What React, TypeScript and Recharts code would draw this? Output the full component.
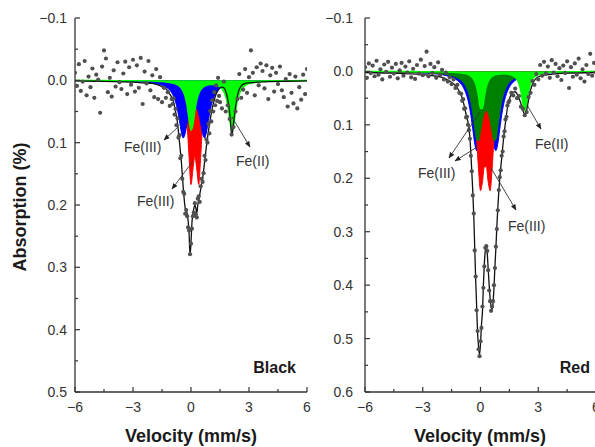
import React from 'react';
import { ComposedChart, Area, Line, Scatter, XAxis, YAxis } from 'recharts';

// velocity grid for the fitted sub-spectra (mm/s)
const gridV = [
  -6, -5, -4, -3, -2.5, -2,
  -1.5, -1.4, -1.3, -1.2, -1.1, -1.0, -0.9, -0.8, -0.7, -0.6, -0.5, -0.4, -0.3, -0.2, -0.1, 0,
  0.1, 0.2, 0.3, 0.4, 0.5, 0.6, 0.7, 0.8, 0.9, 1.0, 1.1, 1.2, 1.3, 1.4, 1.5, 1.6, 1.7, 1.8, 1.9, 2.0,
  2.1, 2.2, 2.3, 2.4, 2.5, 2.6, 2.7, 2.8, 2.9, 3.0,
  3.5, 4, 5, 6,
];

// Black sample sub-spectra
const blackGreen = [
  0.0003, 0.0004, 0.0005, 0.0007, 0.0008, 0.0012,
  0.0019, 0.0022, 0.0025, 0.0029, 0.0034, 0.004, 0.0047, 0.0059, 0.0073, 0.0094, 0.0126, 0.0178, 0.0263, 0.0407, 0.0624, 0.0801,
  0.0716, 0.0489, 0.0316, 0.0213, 0.0153, 0.0117, 0.0094, 0.008, 0.0072, 0.0067, 0.0067, 0.0069, 0.0076, 0.0087, 0.0105, 0.0134, 0.018, 0.0259, 0.0393, 0.0603,
  0.0795, 0.0736, 0.0509, 0.0327, 0.0216, 0.0151, 0.011, 0.0084, 0.0065, 0.0053,
  0.0024, 0.0014, 0.0007, 0.0004,
];
const blackBlue = [
  0.0004, 0.0006, 0.0009, 0.0017, 0.0024, 0.0039,
  0.0076, 0.0088, 0.0105, 0.0127, 0.0158, 0.0199, 0.0258, 0.0344, 0.047, 0.0643, 0.0829, 0.0925, 0.085, 0.0685, 0.0539, 0.0446,
  0.0401, 0.0401, 0.0446, 0.0539, 0.0685, 0.085, 0.0925, 0.0829, 0.0643, 0.047, 0.0344, 0.0258, 0.0199, 0.0158, 0.0127, 0.0105, 0.0088, 0.0076, 0.0065, 0.0057,
  0.005, 0.0044, 0.0039, 0.0036, 0.0033, 0.0029, 0.0027, 0.0024, 0.0023, 0.0021,
  0.0014, 0.0011, 0.0007, 0.0005,
];
const blackRed = [
  0.0002, 0.0003, 0.0005, 0.0008, 0.0012, 0.0017,
  0.0029, 0.0034, 0.0038, 0.0045, 0.0052, 0.0062, 0.0074, 0.0092, 0.0115, 0.0149, 0.02, 0.0285, 0.0433, 0.0716, 0.1227, 0.1672,
  0.1429, 0.1216, 0.1429, 0.1672, 0.1227, 0.0716, 0.0433, 0.0285, 0.02, 0.0149, 0.0115, 0.0092, 0.0074, 0.0062, 0.0052, 0.0045, 0.0038, 0.0034, 0.0029, 0.0026,
  0.0024, 0.0022, 0.0019, 0.0017, 0.0017, 0.0015, 0.0014, 0.0013, 0.0012, 0.0012,
  0.0007, 0.0006, 0.0004, 0.0002,
];

// Red sample sub-spectra
const redLightGreen = [
  0.0002, 0.0002, 0.0003, 0.0004, 0.0006, 0.0009,
  0.0014, 0.0016, 0.0018, 0.002, 0.0024, 0.0029, 0.0034, 0.0041, 0.0051, 0.0066, 0.0089, 0.0124, 0.0184, 0.0289, 0.0472, 0.0692,
  0.0693, 0.0473, 0.0292, 0.0187, 0.0128, 0.0094, 0.0073, 0.0059, 0.0051, 0.0048, 0.0046, 0.0044, 0.0046, 0.005, 0.0057, 0.0067, 0.0084, 0.011, 0.0154, 0.0233,
  0.0372, 0.0591, 0.0736, 0.059, 0.037, 0.023, 0.0151, 0.0105, 0.0077, 0.0059,
  0.0023, 0.0012, 0.0005, 0.0003,
];
const redDarkGreen = [
  0.0005, 0.0008, 0.0012, 0.0021, 0.0029, 0.0045,
  0.0077, 0.0088, 0.0101, 0.0119, 0.014, 0.0167, 0.0204, 0.0254, 0.0324, 0.0425, 0.0573, 0.0784, 0.1051, 0.1277, 0.1301, 0.1126,
  0.0919, 0.0783, 0.0738, 0.0783, 0.0919, 0.1126, 0.1301, 0.1277, 0.1051, 0.0784, 0.0573, 0.0425, 0.0324, 0.0254, 0.0204, 0.0167, 0.014, 0.0119, 0.0101, 0.0088,
  0.0077, 0.0068, 0.006, 0.0054, 0.0049, 0.0045, 0.0041, 0.0037, 0.0035, 0.0032,
  0.0021, 0.0016, 0.0009, 0.0006,
];
const redBlue = [
  0.0008, 0.0011, 0.0016, 0.0028, 0.004, 0.0062,
  0.0109, 0.0125, 0.0145, 0.0169, 0.02, 0.024, 0.0294, 0.0369, 0.0472, 0.0618, 0.0821, 0.1083, 0.1348, 0.1483, 0.1396, 0.1184,
  0.0984, 0.0861, 0.082, 0.0861, 0.0984, 0.1184, 0.1396, 0.1483, 0.1348, 0.1083, 0.0821, 0.0618, 0.0472, 0.0369, 0.0294, 0.024, 0.02, 0.0169, 0.0145, 0.0125,
  0.0109, 0.0096, 0.0085, 0.0076, 0.0069, 0.0062, 0.0057, 0.0052, 0.0048, 0.0044,
  0.003, 0.0022, 0.0013, 0.0009,
];
const redRed = [
  0.0005, 0.0007, 0.0011, 0.0019, 0.0027, 0.0041,
  0.0069, 0.0077, 0.0089, 0.0101, 0.0118, 0.0139, 0.0166, 0.0203, 0.0252, 0.0323, 0.0427, 0.0588, 0.0848, 0.1267, 0.1841, 0.2232,
  0.207, 0.1785, 0.1785, 0.207, 0.2232, 0.1841, 0.1267, 0.0848, 0.0588, 0.0427, 0.0323, 0.0252, 0.0203, 0.0166, 0.0139, 0.0118, 0.0101, 0.0089, 0.0077, 0.0069,
  0.0061, 0.0055, 0.005, 0.0044, 0.0041, 0.0038, 0.0035, 0.0032, 0.0029, 0.0027,
  0.0019, 0.0014, 0.0009, 0.0007,
];

// total fits
const fitBlackV = [
  -6, -5, -4, -3, -2.5, -2, -1.75, -1.5, -1.25, -1.1, -1.0, -0.9, -0.8, -0.7, -0.6, -0.5, -0.4, -0.3, -0.2,
  -0.15, -0.1, -0.05, 0, 0.05, 0.1, 0.15, 0.2, 0.25, 0.3, 0.35, 0.4,
  0.5, 0.6, 0.7, 0.8, 0.9, 1.0, 1.1, 1.2, 1.3, 1.4, 1.5, 1.6, 1.7, 1.8, 1.9,
  2.0, 2.05, 2.1, 2.15, 2.2, 2.3, 2.4, 2.5, 2.6, 2.8, 3.0, 3.5, 4, 5, 6,
];
const fitBlack = [
  0.001, 0.0015, 0.002, 0.003, 0.004, 0.005, 0.007, 0.01, 0.015, 0.022, 0.027, 0.035, 0.05, 0.068, 0.098, 0.13, 0.173, 0.205, 0.214,
  0.225, 0.245, 0.28, 0.26, 0.228, 0.214, 0.205, 0.2, 0.205, 0.213, 0.2, 0.192,
  0.175, 0.157, 0.132, 0.105, 0.082, 0.062, 0.045, 0.032, 0.022, 0.016, 0.012, 0.011, 0.012, 0.018, 0.03,
  0.052, 0.07, 0.087, 0.083, 0.068, 0.044, 0.025, 0.014, 0.009, 0.005, 0.004, 0.003, 0.002, 0.0015, 0.001,
];
const fitRedV = [
  -6, -5, -4, -3, -2.5, -2, -1.6, -1.4, -1.2, -1.0, -0.9, -0.8, -0.7, -0.6, -0.5,
  -0.45, -0.4, -0.35, -0.3, -0.25, -0.2, -0.15, -0.1, -0.05, 0,
  0.05, 0.1, 0.15, 0.2, 0.25, 0.3, 0.35, 0.4, 0.45, 0.5, 0.55, 0.6, 0.65, 0.7, 0.75, 0.8, 0.85, 0.9,
  1.0, 1.1, 1.2, 1.3, 1.4, 1.5, 1.6, 1.7, 1.8, 1.9, 2.0, 2.1, 2.2, 2.3, 2.4, 2.5, 2.6, 2.7, 2.8,
  3.0, 3.5, 4, 5, 6,
];
const fitRed = [
  0.002, 0.003, 0.004, 0.006, 0.008, 0.011, 0.018, 0.023, 0.031, 0.045, 0.056, 0.072, 0.088, 0.105, 0.153,
  0.19, 0.225, 0.27, 0.33, 0.39, 0.44, 0.49, 0.515, 0.53, 0.51,
  0.475, 0.45, 0.4, 0.36, 0.335, 0.325, 0.34, 0.37, 0.4, 0.425, 0.44, 0.445, 0.435, 0.405, 0.365, 0.33, 0.29, 0.255,
  0.2, 0.163, 0.125, 0.095, 0.068, 0.052, 0.043, 0.039, 0.038, 0.042, 0.05, 0.06, 0.073, 0.08, 0.072, 0.053, 0.035, 0.024, 0.017,
  0.01, 0.006, 0.004, 0.003, 0.002,
];

// measured points [velocity, absorption]
const obsBlack: [number, number][] = [
  [-6.0, -0.012], [-5.9, 0.009], [-5.8, -0.026], [-5.7, 0.017], [-5.6, 0.002], [-5.5, -0.031], [-5.4, 0.024], [-5.3, -0.006], [-5.2, 0.011], [-5.1, -0.019],
  [-5.0, 0.028], [-4.9, -0.009], [-4.8, -0.001], [-4.7, 0.052], [-4.6, -0.022], [-4.5, -0.048], [-4.4, -0.035], [-4.3, 0.019], [-4.2, -0.004], [-4.1, 0.026],
  [-4.0, -0.016], [-3.9, 0.010], [-3.8, -0.029], [-3.7, 0.003], [-3.6, 0.014], [-3.5, -0.011], [-3.4, -0.030], [-3.3, 0.022], [-3.2, -0.021], [-3.1, 0.007],
  [-3.0, -0.033], [-2.9, 0.018], [-2.8, -0.024], [-2.7, 0.012], [-2.6, -0.036], [-2.5, 0.038], [-2.4, -0.014], [-2.3, 0.005], [-2.2, -0.031], [-2.1, 0.016],
  [-2.0, -0.008], [-1.9, 0.027], [-1.8, -0.018], [-1.7, 0.030], [-1.6, -0.005], [-1.5, 0.035], [-1.4, 0.012], [-1.3, 0.028], [-1.2, 0.019], [-1.1, 0.041],
  [-1.0, 0.030], [-0.95, 0.038], [-0.9, 0.029], [-0.85, 0.055], [-0.8, 0.046], [-0.75, 0.072], [-0.7, 0.061], [-0.65, 0.092], [-0.6, 0.088], [-0.55, 0.125],
  [-0.5, 0.121], [-0.45, 0.158], [-0.4, 0.179], [-0.35, 0.182], [-0.3, 0.214], [-0.25, 0.208], [-0.2, 0.218], [-0.15, 0.236], [-0.1, 0.241], [-0.05, 0.279],
  [0.0, 0.262], [0.05, 0.238], [0.1, 0.218], [0.15, 0.212], [0.2, 0.197], [0.25, 0.215], [0.3, 0.22], [0.35, 0.19], [0.4, 0.186], [0.45, 0.195],
  [0.5, 0.17], [0.55, 0.158], [0.6, 0.163], [0.65, 0.149], [0.7, 0.121], [0.75, 0.128], [0.8, 0.095], [0.85, 0.1], [0.9, 0.07], [0.95, 0.085],
  [1.0, 0.049], [1.05, 0.066], [1.1, 0.032], [1.15, 0.05], [1.2, 0.019], [1.25, 0.04], [1.3, 0.008], [1.35, 0.033], [1.4, -0.004], [1.45, 0.025], [1.5, 0.035],
  [1.6, 0.045], [1.7, 0.002], [1.8, 0.05], [1.9, 0.04], [2.0, 0.062], [2.1, 0.087], [2.2, 0.075], [2.3, 0.05], [2.4, 0.03], [2.5, -0.01],
  [2.6, 0.028], [2.7, 0.015], [2.8, -0.018], [2.9, 0.02], [3.0, -0.005], [3.1, -0.048], [3.2, -0.012], [3.3, 0.024], [3.4, -0.021], [3.5, 0.008],
  [3.6, -0.027], [3.7, -0.015], [3.8, 0.013], [3.9, -0.024], [4.0, 0.03], [4.1, -0.008], [4.2, -0.02], [4.3, 0.018], [4.4, -0.012], [4.5, 0.006],
  [4.6, -0.022], [4.7, 0.016], [4.8, 0.027], [4.9, -0.002], [5.0, 0.042], [5.1, -0.01], [5.2, 0.02], [5.3, 0.037], [5.4, -0.006], [5.5, 0.045],
  [5.6, 0.011], [5.7, 0.031], [5.8, -0.009], [5.9, 0.022], [6.0, -0.018],
];
const obsRed: [number, number][] = [
  [-6.0, -0.008], [-5.9, 0.012], [-5.8, -0.015], [-5.7, 0.003], [-5.6, -0.011], [-5.5, 0.009], [-5.4, -0.02], [-5.3, 0.006], [-5.2, -0.004], [-5.1, 0.015],
  [-5.0, -0.013], [-4.9, 0.001], [-4.8, -0.018], [-4.7, 0.01], [-4.6, -0.007], [-4.5, 0.004], [-4.4, -0.014], [-4.3, 0.013], [-4.2, -0.002], [-4.1, -0.016],
  [-4.0, 0.008], [-3.9, -0.009], [-3.8, 0.002], [-3.7, -0.019], [-3.6, 0.011], [-3.5, -0.005], [-3.4, 0.014], [-3.3, -0.012], [-3.2, 0.004], [-3.1, -0.022],
  [-3.0, 0.007], [-2.9, -0.01], [-2.8, -0.037], [-2.7, 0.009], [-2.6, -0.014], [-2.5, 0.003], [-2.4, -0.008], [-2.3, 0.012], [-2.2, -0.017], [-2.1, 0.006],
  [-2.0, -0.003], [-1.9, 0.015], [-1.8, 0.002], [-1.7, 0.019], [-1.6, 0.011], [-1.5, 0.024], [-1.4, 0.015], [-1.3, 0.031], [-1.2, 0.025], [-1.1, 0.04],
  [-1.0, 0.042], [-0.95, 0.055], [-0.9, 0.052], [-0.85, 0.07], [-0.8, 0.069], [-0.75, 0.086], [-0.7, 0.085], [-0.65, 0.1], [-0.6, 0.11], [-0.55, 0.126],
  [-0.5, 0.158], [-0.45, 0.187], [-0.4, 0.232], [-0.35, 0.266], [-0.3, 0.335], [-0.25, 0.384], [-0.2, 0.447], [-0.15, 0.486], [-0.1, 0.52], [-0.05, 0.533],
  [0.0, 0.505], [0.05, 0.48], [0.1, 0.44], [0.15, 0.405], [0.2, 0.365], [0.25, 0.33], [0.3, 0.327], [0.35, 0.336], [0.4, 0.372], [0.45, 0.41],
  [0.5, 0.43], [0.55, 0.448], [0.6, 0.44], [0.65, 0.43], [0.7, 0.4], [0.75, 0.368], [0.8, 0.328], [0.85, 0.295], [0.9, 0.26], [0.95, 0.222],
  [1.0, 0.198], [1.05, 0.185], [1.1, 0.158], [1.15, 0.15], [1.2, 0.122], [1.25, 0.112], [1.3, 0.09], [1.35, 0.085], [1.4, 0.064], [1.45, 0.058], [1.5, 0.055],
  [1.6, 0.04], [1.7, 0.045], [1.8, 0.032], [1.9, 0.05], [2.0, 0.046], [2.1, 0.066], [2.2, 0.07], [2.3, 0.082], [2.4, 0.076], [2.5, 0.048],
  [2.6, 0.04], [2.7, 0.018], [2.8, 0.025], [2.9, 0.005], [3.0, 0.015], [3.1, -0.012], [3.2, 0.008], [3.3, -0.018], [3.4, 0.004], [3.5, -0.009],
  [3.6, 0.012], [3.7, -0.021], [3.8, 0.002], [3.9, -0.014], [4.0, 0.009], [4.1, -0.006], [4.2, 0.016], [4.3, -0.011], [4.4, 0.003], [4.5, -0.019],
  [4.6, 0.031], [4.7, -0.008], [4.8, 0.01], [4.9, -0.015], [5.0, 0.006], [5.1, -0.024], [5.2, 0.013], [5.3, -0.004], [5.4, 0.019], [5.5, -0.012],
  [5.6, 0.005], [5.7, -0.033], [5.8, 0.008], [5.9, -0.016], [6.0, 0.002],
];

const xTicks = [-6, -4.5, -3, -1.5, 0, 1.5, 3, 4.5, 6];
const yTicksBlack = [-0.1, -0.05, 0, 0.05, 0.1, 0.15, 0.2, 0.25, 0.3, 0.35, 0.4, 0.45, 0.5];
const yTicksRed = [-0.1, -0.05, 0, 0.05, 0.1, 0.15, 0.2, 0.25, 0.3, 0.35, 0.4, 0.45, 0.5, 0.55, 0.6];

const blackRows = gridV.map((v, i) => ({ v, green: blackGreen[i], blue: blackBlue[i], red: blackRed[i] }));
const redRows = gridV.map((v, i) => ({ v, lgreen: redLightGreen[i], dgreen: redDarkGreen[i], blue: redBlue[i], red: redRed[i] }));
const toPts = (vs: number[], as: number[]) => vs.map((v, i) => ({ v, a: as[i] }));
const fitBlackPts = toPts(fitBlackV, fitBlack);
const fitRedPts = toPts(fitRedV, fitRed);
const obsBlackPts = obsBlack.map(([v, a]) => ({ v, a }));
const obsRedPts = obsRed.map(([v, a]) => ({ v, a }));

const FONT = 'Arial, "Liberation Sans", sans-serif';
const AXIS = '#333';
const minus = (s: string) => s.replace('-', '\u2212');

const XTick = (p: any) => {
  const v = p.payload.value;
  const major = Math.abs(v % 3) < 1e-6;
  return (
    <g>
      <line x1={p.x} x2={p.x} y1={p.y} y2={p.y - (major ? 5 : 3)} stroke={AXIS} strokeWidth={1.2} />
      {major && (
        <text x={p.x} y={p.y + 20} textAnchor="middle" fontSize={14} fill="#333" fontFamily={FONT}>
          {minus(String(v))}
        </text>
      )}
    </g>
  );
};

const makeYTick = (gap: number) => (p: any) => {
  const v = p.payload.value;
  const major = Math.abs(v * 10 - Math.round(v * 10)) < 1e-6;
  return (
    <g>
      <line x1={p.x} x2={p.x + (major ? 5 : 3)} y1={p.y} y2={p.y} stroke={AXIS} strokeWidth={1.2} />
      {major && (
        <text x={p.x - gap} y={p.y + 5} textAnchor="end" fontSize={14} fill="#333" fontFamily={FONT}>
          {minus(v.toFixed(1))}
        </text>
      )}
    </g>
  );
};

const Dot = (p: any) => <circle cx={p.cx} cy={p.cy} r={2.1} fill="#505050" />;

const arrows = [
  { x1: 178, y1: 127, x2: 164, y2: 140 },
  { x1: 193, y1: 161, x2: 172, y2: 189 },
  { x1: 232, y1: 117, x2: 250, y2: 147 },
  { x1: 480, y1: 112, x2: 449, y2: 158 },
  { x1: 477, y1: 147, x2: 455, y2: 161 },
  { x1: 491, y1: 168, x2: 516, y2: 210 },
  { x1: 527, y1: 105, x2: 541, y2: 129 },
];
const notes = [
  { text: 'Fe(III)', x: 124, y: 152 },
  { text: 'Fe(III)', x: 137, y: 206 },
  { text: 'Fe(II)', x: 236, y: 166 },
  { text: 'Fe(III)', x: 418, y: 178 },
  { text: 'Fe(III)', x: 508, y: 231 },
  { text: 'Fe(II)', x: 535, y: 149 },
];

const axisLine = { stroke: AXIS, strokeWidth: 1.3 };

export default function App() {
  return (
    <div style={{ position: 'absolute', left: 0, top: 0, width: 595, height: 447, overflow: 'hidden', background: '#fff' }}>
      <div style={{ position: 'absolute', left: 0, top: 0 }}>
        <ComposedChart width={320} height={447} data={blackRows} margin={{ top: 18, right: 13, bottom: 25, left: 15 }}>
          <XAxis type="number" dataKey="v" domain={[-6, 6]} ticks={xTicks} interval={0} height={30} tickSize={0} tickMargin={0}
            tickLine={false} axisLine={axisLine} tick={XTick} allowDataOverflow />
          <YAxis type="number" domain={[-0.1, 0.5]} reversed ticks={yTicksBlack} interval={0} width={60} tickSize={0} tickMargin={0}
            tickLine={false} axisLine={axisLine} tick={makeYTick(8)} allowDataOverflow />
          <Area type="monotone" dataKey="red" baseValue={0} stroke="#ff0000" fill="#ff0000" fillOpacity={1} strokeWidth={1} isAnimationActive={false} />
          <Area type="monotone" dataKey="blue" baseValue={0} stroke="#0000ff" fill="#0000ff" fillOpacity={1} strokeWidth={1} isAnimationActive={false} />
          <Area type="monotone" dataKey="green" baseValue={0} stroke="#00ff00" fill="#00ff00" fillOpacity={1} strokeWidth={1.5} isAnimationActive={false} />
          <Scatter data={obsBlackPts} dataKey="a" shape={Dot} isAnimationActive={false} />
          <Line data={fitBlackPts} dataKey="a" type="monotone" stroke="#111" strokeWidth={1.3} dot={false} isAnimationActive={false} />
        </ComposedChart>
      </div>
      <div style={{ position: 'absolute', left: 290, top: 0 }}>
        <ComposedChart width={320} height={447} data={redRows} margin={{ top: 18, right: 14, bottom: 25, left: 15 }}>
          <XAxis type="number" dataKey="v" domain={[-6, 6]} ticks={xTicks} interval={0} height={30} tickSize={0} tickMargin={0}
            tickLine={false} axisLine={axisLine} tick={XTick} allowDataOverflow />
          <YAxis type="number" domain={[-0.1, 0.6]} reversed ticks={yTicksRed} interval={0} width={60} tickSize={0} tickMargin={0}
            tickLine={false} axisLine={axisLine} tick={makeYTick(12)} allowDataOverflow />
          <Area type="monotone" dataKey="blue" baseValue={0} stroke="#0000ff" fill="#0000ff" fillOpacity={1} strokeWidth={1} isAnimationActive={false} />
          <Area type="monotone" dataKey="red" baseValue={0} stroke="#ff0000" fill="#ff0000" fillOpacity={1} strokeWidth={1} isAnimationActive={false} />
          <Area type="monotone" dataKey="dgreen" baseValue={0} stroke="#008000" fill="#008000" fillOpacity={1} strokeWidth={1} isAnimationActive={false} />
          <Area type="monotone" dataKey="lgreen" baseValue={0} stroke="#00ff00" fill="#00ff00" fillOpacity={1} strokeWidth={1.5} isAnimationActive={false} />
          <Scatter data={obsRedPts} dataKey="a" shape={Dot} isAnimationActive={false} />
          <Line data={fitRedPts} dataKey="a" type="monotone" stroke="#111" strokeWidth={1.3} dot={false} isAnimationActive={false} />
        </ComposedChart>
      </div>
      <svg width={595} height={447} style={{ position: 'absolute', left: 0, top: 0, pointerEvents: 'none' }}>
        <defs>
          <marker id="arrowHead" viewBox="0 0 10 10" refX="9" refY="5" markerWidth="7" markerHeight="7" orient="auto">
            <path d="M0,1 L10,5 L0,9 z" fill="#222" />
          </marker>
        </defs>
        {arrows.map((a, i) => (
          <line key={i} x1={a.x1} y1={a.y1} x2={a.x2} y2={a.y2} stroke="#333" strokeWidth={0.9} markerEnd="url(#arrowHead)" />
        ))}
        {notes.map((n, i) => (
          <text key={i} x={n.x} y={n.y} fontSize={14} fill="#333" fontFamily={FONT}>{n.text}</text>
        ))}
        <text transform="translate(26,207) rotate(-90)" textAnchor="middle" fontSize={18} fontWeight="bold" fill="#1a1a1a" fontFamily={FONT}>
          Absorption (%)
        </text>
        <text x={191} y={442} textAnchor="middle" fontSize={18} fontWeight="bold" fill="#1a1a1a" fontFamily={FONT}>Velocity (mm/s)</text>
        <text x={480} y={442} textAnchor="middle" fontSize={18} fontWeight="bold" fill="#1a1a1a" fontFamily={FONT}>Velocity (mm/s)</text>
        <text x={296} y={373} textAnchor="end" fontSize={16} fontWeight="bold" fill="#1a1a1a" fontFamily={FONT}>Black</text>
        <text x={590} y={373} textAnchor="end" fontSize={16} fontWeight="bold" fill="#1a1a1a" fontFamily={FONT}>Red</text>
      </svg>
    </div>
  );
}
